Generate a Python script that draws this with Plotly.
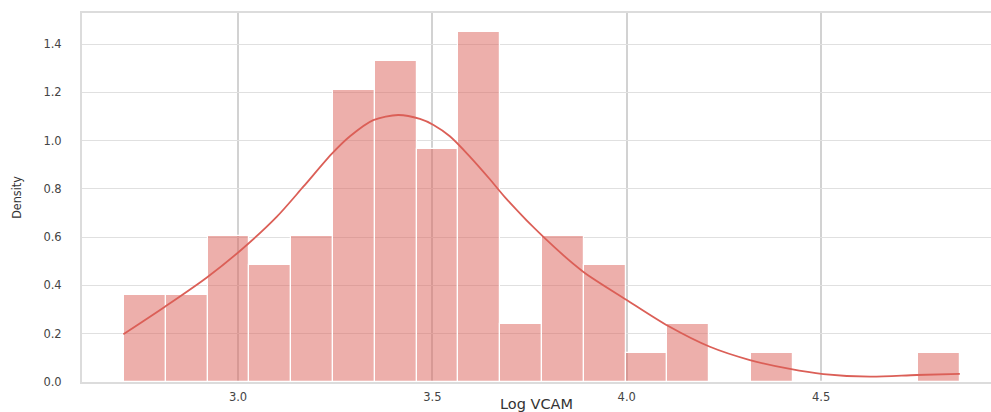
import plotly.graph_objects as go

# Histogram data (20 bins, log VCAM), counts
bin_start = 2.707
bin_width = 0.1075
counts = [3, 3, 5, 4, 5, 10, 11, 8, 12, 2, 5, 4, 1, 2, 0, 1, 0, 0, 0, 1]
n_total = sum(counts)

# KDE curve
kde_x = [2.705, 2.812, 2.919, 3.010, 3.100, 3.168, 3.241, 3.288, 3.348, 3.412,
         3.468, 3.503, 3.545, 3.597, 3.648, 3.687, 3.785, 3.888, 4.000, 4.107,
         4.214, 4.317, 4.420, 4.506, 4.626, 4.746, 4.857]
kde_y = [0.198, 0.312, 0.432, 0.550, 0.685, 0.809, 0.945, 1.018, 1.085, 1.106,
         1.090, 1.065, 1.018, 0.933, 0.840, 0.765, 0.602, 0.457, 0.340, 0.232,
         0.146, 0.091, 0.054, 0.033, 0.022, 0.029, 0.034]

x_ticks = [3.0, 3.5, 4.0, 4.5]
y_ticks = [0.0, 0.2, 0.4, 0.6, 0.8, 1.0, 1.2, 1.4]

centers = [bin_start + (i + 0.5) * bin_width for i in range(len(counts))]
density = [c / (n_total * bin_width) for c in counts]

fig = go.Figure()
fig.add_trace(go.Bar(
    x=centers, y=density, width=bin_width,
    marker=dict(color="rgba(219,95,87,0.5)", line=dict(color="white", width=1.2)),
    showlegend=False, hoverinfo="skip",
))
fig.add_trace(go.Scatter(
    x=kde_x, y=kde_y, mode="lines", line=dict(color="#db5f57", width=1.8, shape="spline", smoothing=0.8),
    showlegend=False, hoverinfo="skip",
))

tick_font = dict(family="DejaVu Sans", size=11.5, color="#444444")
fig.update_layout(
    width=991, height=412,
    margin=dict(l=82, r=0, t=13, b=30, autoexpand=False),
    paper_bgcolor="white", plot_bgcolor="white",
    bargap=0,
    xaxis=dict(
        range=[2.5986, 4.9372], tickvals=x_ticks, ticktext=[f"{v:.1f}" for v in x_ticks],
        showgrid=True, gridcolor="#d2d2d2", gridwidth=1.8,
        showline=True, linecolor="#dcdcdc", linewidth=2, mirror=True,
        zeroline=False, ticks="", tickfont=tick_font, ticklabelstandoff=3,
        title=dict(text="Log VCAM", font=dict(family="DejaVu Sans", size=14.5, color="#333333"), standoff=8),
    ),
    yaxis=dict(
        range=[0, 1.5286], tickvals=y_ticks, ticktext=[f"{v:.1f}" for v in y_ticks],
        showgrid=True, gridcolor="#e0e0e0", gridwidth=1.4,
        showline=True, linecolor="#dcdcdc", linewidth=2, mirror=False,
        zeroline=False, ticks="", tickfont=tick_font, ticklabelstandoff=16,
        title=dict(text="Density", font=dict(family="Liberation Sans Narrow, DejaVu Sans Condensed, Liberation Sans", size=12.5, color="#333333"), standoff=19),
    ),
)
fig.write_html("out.html", config={"displayModeBar": False},
               post_script="document.body.style.margin='0';document.body.style.overflow='hidden';")
